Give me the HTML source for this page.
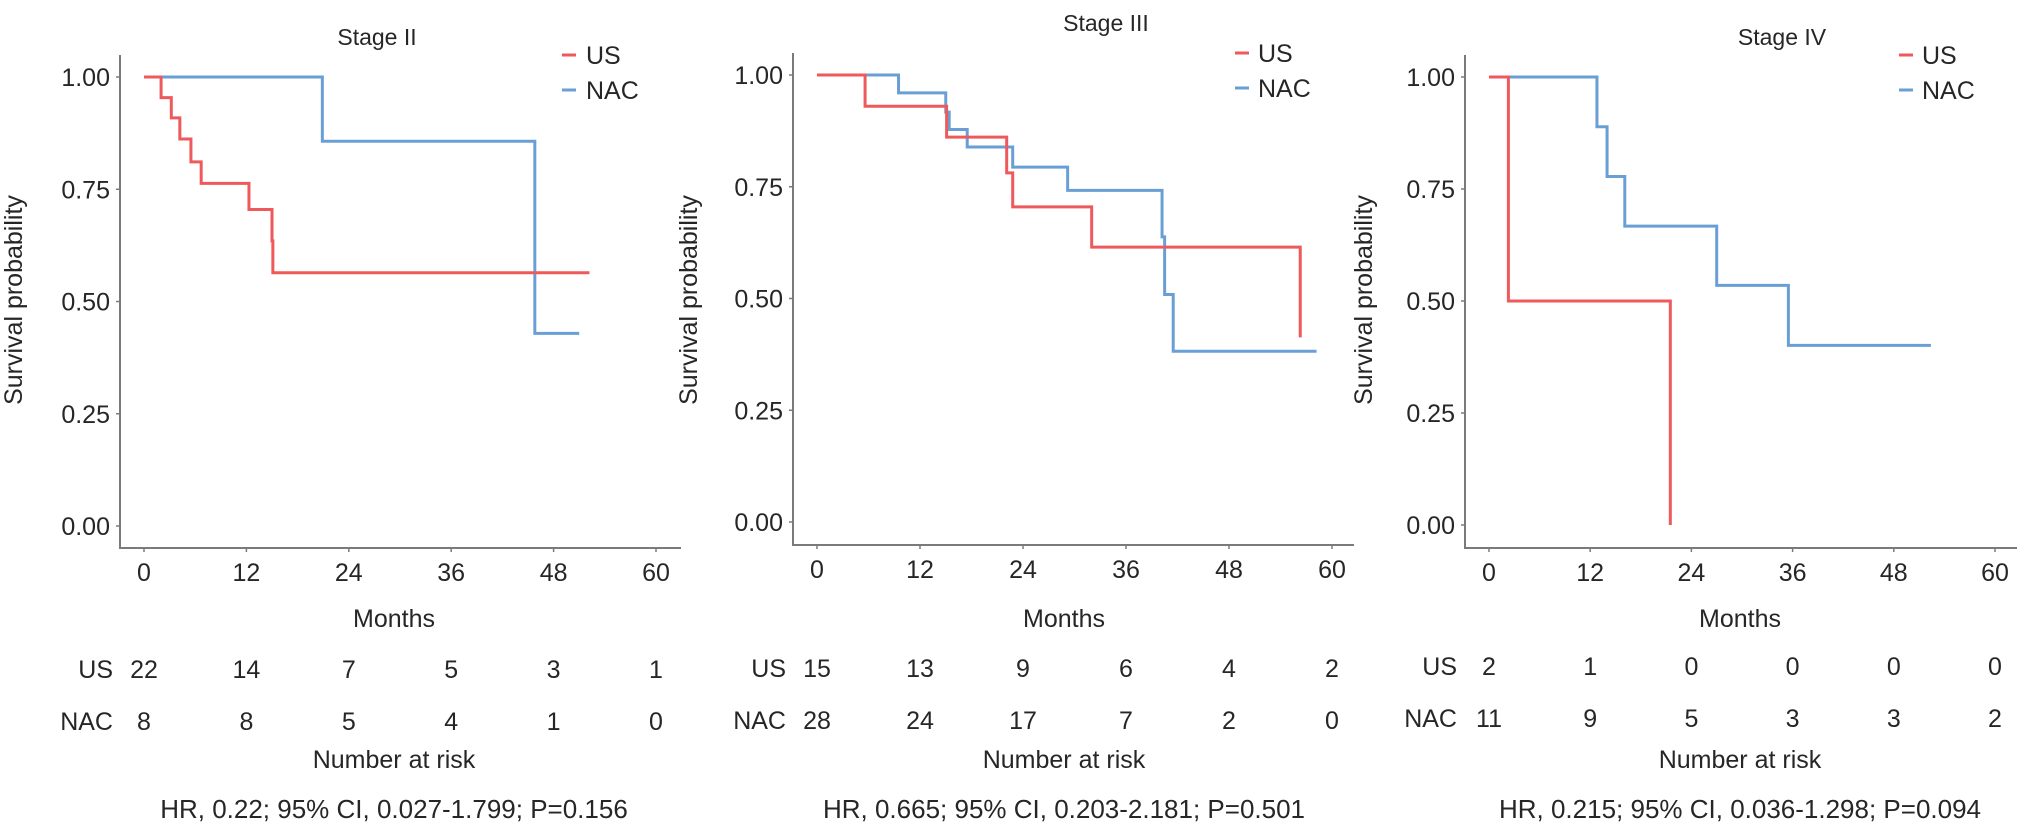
<!DOCTYPE html>
<html><head><meta charset="utf-8"><style>
html,body{margin:0;padding:0;background:#fff;}
svg{display:block;font-family:"Liberation Sans",Arial,sans-serif;}
</style></head><body>
<svg id="fig" width="2032" height="832" viewBox="0 0 2032 832"></svg>
<script>
const xTicks = [0, 12, 24, 36, 48, 60];
const yTicks = [0, 0.25, 0.5, 0.75, 1];
const yTickLabels = ["0.00", "0.25", "0.50", "0.75", "1.00"];
const stageTitles = ["Stage II", "Stage III", "Stage IV"];
const groupNames = ["US", "NAC"];

// Stage II
const s2UsTimes = [2, 3.2, 4.2, 5.5, 6.7, 12.3, 15.0, 15.1];
const s2UsSurv = [0.954, 0.909, 0.862, 0.811, 0.763, 0.705, 0.635, 0.564];
const s2UsEnd = 52.2;
const s2NacTimes = [20.9, 45.8];
const s2NacSurv = [0.857, 0.429];
const s2NacEnd = 51;
const s2RiskUs = [22, 14, 7, 5, 3, 1];
const s2RiskNac = [8, 8, 5, 4, 1, 0];
const s2Stats = "HR, 0.22; 95% CI, 0.027-1.799; P=0.156";

// Stage III
const s3UsTimes = [5.6, 15.1, 22.1, 22.8, 32, 56.3];
const s3UsSurv = [0.930, 0.861, 0.781, 0.705, 0.615, 0.413];
const s3UsEnd = 56.3;
const s3NacTimes = [9.5, 15, 15.4, 17.5, 22.8, 29.2, 40.2, 40.5, 41.5];
const s3NacSurv = [0.96, 0.917, 0.878, 0.839, 0.794, 0.742, 0.638, 0.509, 0.382];
const s3NacEnd = 58.2;
const s3RiskUs = [15, 13, 9, 6, 4, 2];
const s3RiskNac = [28, 24, 17, 7, 2, 0];
const s3Stats = "HR, 0.665; 95% CI, 0.203-2.181; P=0.501";

// Stage IV
const s4UsTimes = [2.3, 21.5];
const s4UsSurv = [0.5, 0];
const s4UsEnd = 21.5;
const s4NacTimes = [12.8, 14.0, 16.1, 27, 35.5];
const s4NacSurv = [0.889, 0.778, 0.667, 0.535, 0.401];
const s4NacEnd = 52.4;
const s4RiskUs = [2, 1, 0, 0, 0, 0];
const s4RiskNac = [11, 9, 5, 3, 3, 2];
const s4Stats = "HR, 0.215; 95% CI, 0.036-1.298; P=0.094";

const panelData = [
  {us:[s2UsTimes,s2UsSurv,s2UsEnd], nac:[s2NacTimes,s2NacSurv,s2NacEnd], rUs:s2RiskUs, rNac:s2RiskNac, stats:s2Stats},
  {us:[s3UsTimes,s3UsSurv,s3UsEnd], nac:[s3NacTimes,s3NacSurv,s3NacEnd], rUs:s3RiskUs, rNac:s3RiskNac, stats:s3Stats},
  {us:[s4UsTimes,s4UsSurv,s4UsEnd], nac:[s4NacTimes,s4NacSurv,s4NacEnd], rUs:s4RiskUs, rNac:s4RiskNac, stats:s4Stats}
];
const layouts = [
  {ax:120, top:55, x0:144, x60:656, axEnd:681, y1:77, y0:526, xAxisY:548, titleX:377, titleY:45, legLine:562, legText:586, legY:55, riskLbl:113, ytitleX:22, midX:394, usRow:669, nacRow:721},
  {ax:793, top:53, x0:817, x60:1332, axEnd:1354, y1:75, y0:522, xAxisY:545, titleX:1106, titleY:31, legLine:1235, legText:1258, legY:53, riskLbl:786, ytitleX:697, midX:1064, usRow:668, nacRow:720},
  {ax:1465, top:55, x0:1489, x60:1995, axEnd:2017, y1:77, y0:525, xAxisY:548, titleX:1782, titleY:45, legLine:1899, legText:1922, legY:55, riskLbl:1457, ytitleX:1372, midX:1740, usRow:666, nacRow:718}
];
const RED = "#ee5a5c", BLUE = "#6a9fd6", AX = "#7a7a7a", TXT = "#262626";
const NS = "http://www.w3.org/2000/svg";
const svg = document.getElementById("fig");
function mk(tag, attrs, parent, text) {
  const e = document.createElementNS(NS, tag);
  for (const k in attrs) e.setAttribute(k, attrs[k]);
  if (text !== undefined) e.textContent = text;
  (parent || svg).appendChild(e);
  return e;
}
panelData.forEach((d, i) => {
  const L = layouts[i];
  const xs = m => L.x0 + (L.x60 - L.x0) * m / 60;
  const ys = p => L.y0 + (L.y1 - L.y0) * p;
  const g = mk("g", {});
  
  
  const t = mk("text", {x:L.titleX, y:L.titleY, "text-anchor":"middle", "font-size":23, fill:TXT}, g, stageTitles[i]);
  
  
  const ya = mk("line", {x1:L.ax, y1:L.top, x2:L.ax, y2:L.xAxisY+1, stroke:AX, "stroke-width":2}, g);
  
  
  const xa = mk("line", {x1:L.ax-1, y1:L.xAxisY, x2:L.axEnd, y2:L.xAxisY, stroke:AX, "stroke-width":2}, g);
  
  
  yTicks.forEach((v, k) => {
    mk("line", {x1:L.ax-4, y1:ys(v), x2:L.ax, y2:ys(v), stroke:AX, "stroke-width":1.5}, g);
    const lb = mk("text", {x:L.ax-10, y:ys(v)+9, "text-anchor":"end", "font-size":25, fill:TXT}, g, yTickLabels[k]);
    
    
  });
  xTicks.forEach(v => {
    mk("line", {x1:xs(v), y1:L.xAxisY, x2:xs(v), y2:L.xAxisY+4, stroke:AX, "stroke-width":1.5}, g);
    const lb = mk("text", {x:xs(v), y:L.xAxisY+33, "text-anchor":"middle", "font-size":25, fill:TXT}, g, String(v));
    
    
  });
  const yt = mk("text", {x:L.ytitleX, y:300, "text-anchor":"middle", "font-size":25, fill:TXT, transform:`rotate(-90 ${L.ytitleX} 300)`}, g, "Survival probability");
  
  
  const xt = mk("text", {x:L.midX, y:627, "text-anchor":"middle", "font-size":25, fill:TXT}, g, "Months");
  
  
  [[d.nac, BLUE, 'nac'], [d.us, RED, 'us']].forEach(([s, col, nm]) => {
    const [tm, sv, end] = s;
    let p = `M${xs(0)},${ys(1)}`;
    tm.forEach((tt, k) => { p += ` H${xs(tt)} V${ys(sv[k])}`; });
    p += ` H${xs(end)}`;
    const path = mk("path", {d:p, fill:"none", stroke:col, "stroke-width":3}, g);
    
    
  });
  [[RED, 0], [BLUE, 1]].forEach(([col, k]) => {
    const yy = L.legY + k * 35;
    const le = mk("g", {}, g);
    
    
    mk("line", {x1:L.legLine, y1:yy, x2:L.legLine+14, y2:yy, stroke:col, "stroke-width":3}, le);
    mk("text", {x:L.legText, y:yy+9, "font-size":25, fill:TXT}, le, groupNames[k]);
  });
  [[d.rUs, L.usRow, "US"], [d.rNac, L.nacRow, "NAC"]].forEach(([arr, ry, nm]) => {
    const rl = mk("text", {x:L.riskLbl, y:ry+9, "text-anchor":"end", "font-size":25, fill:TXT}, g, nm);
    
    
    arr.forEach((v, k) => {
      const c = mk("text", {x:xs(xTicks[k]), y:ry+9, "text-anchor":"middle", "font-size":25, fill:TXT}, g, String(v));
      
      
    });
  });
  const nr = mk("text", {x:L.midX, y:768, "text-anchor":"middle", "font-size":25, fill:TXT}, g, "Number at risk");
  
  
  const st = mk("text", {x:L.midX, y:818, "text-anchor":"middle", "font-size":26, fill:TXT}, g, d.stats);
  
  
});
</script>
</body></html>
